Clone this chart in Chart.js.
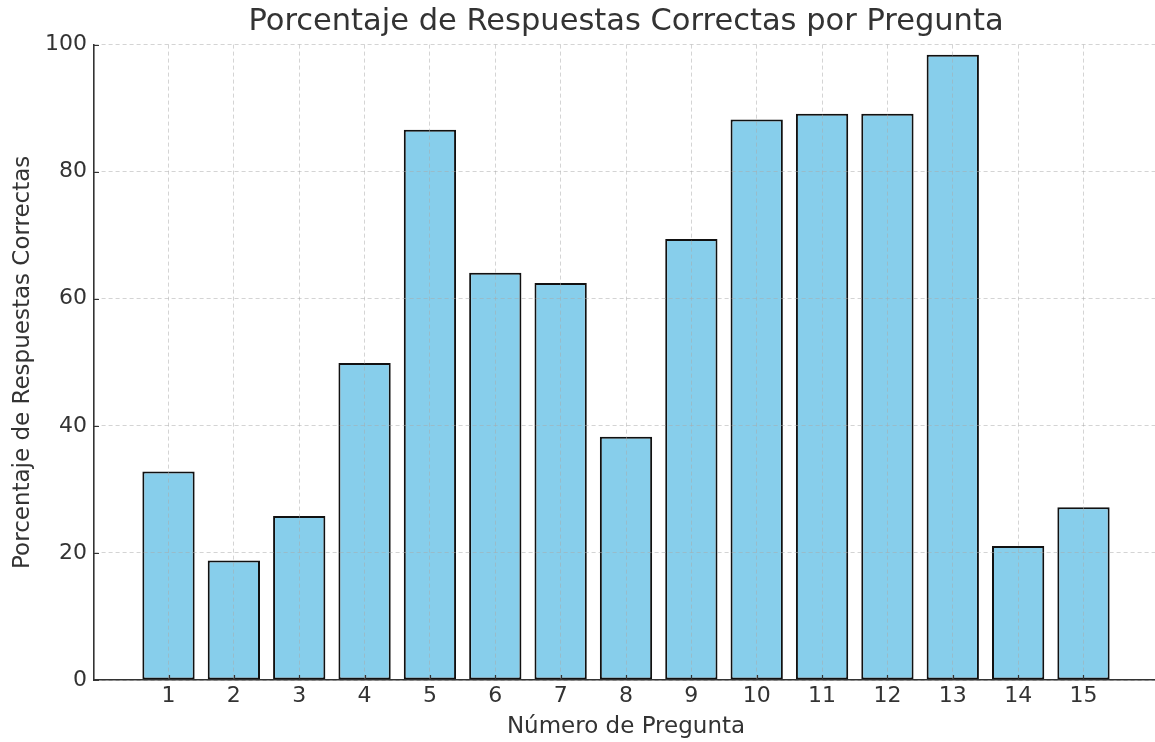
<!DOCTYPE html>
<html>
<head>
<meta charset="utf-8">
<script src="https://cdn.jsdelivr.net/npm/chart.js@4.4.0/dist/chart.umd.min.js"></script>
<style>
    html, body { margin: 0; padding: 0; background: #fff; overflow: hidden; }
    #wrap { width: 1160px; height: 742px; }
</style>
</head>
<body>
<div id="wrap"><canvas id="grafico"></canvas></div>
<script>
// datos
const preguntas = [1, 2, 3, 4, 5, 6, 7, 8, 9, 10, 11, 12, 13, 14, 15];
const porcentajes = [32.8, 18.8, 25.8, 49.9, 86.6, 64.1, 62.5, 38.3, 69.4, 88.2, 89.1, 89.1, 98.4, 21.1, 27.2];
const ticksY = [0, 20, 40, 60, 80, 100];

const fuente = "'DejaVu Sans', sans-serif";
const gris = '#333333';

// marcas de los ejes hacia dentro, como en el original
const marcasInternas = {
    id: 'marcasInternas',
    afterDraw(chart) {
        const ctx = chart.ctx;
        const x = chart.scales.x;
        const y = chart.scales.y;
        ctx.save();
        ctx.strokeStyle = gris;
        ctx.lineWidth = 1.2;
        ctx.beginPath();
        preguntas.forEach(p => {
            const px = Math.round(x.getPixelForValue(p)) + 0.5;
            ctx.moveTo(px, y.bottom);
            ctx.lineTo(px, y.bottom - 5);
        });
        ticksY.forEach(v => {
            const py = Math.round(y.getPixelForValue(v)) + 0.5;
            ctx.moveTo(x.left, py);
            ctx.lineTo(x.left + 5, py);
        });
        ctx.stroke();
        ctx.restore();
    }
};

const ctx = document.getElementById('grafico').getContext('2d');
new Chart(ctx, {
    type: 'bar',
    data: {
        datasets: [{
            data: preguntas.map((p, i) => ({ x: p, y: porcentajes[i] })),
            backgroundColor: '#87CEEB',
            borderColor: '#111111',
            borderWidth: 2,
            borderSkipped: false,
            barPercentage: 0.8,
            categoryPercentage: 1.0
        }]
    },
    options: {
        responsive: true,
        maintainAspectRatio: false,
        animation: false,
        layout: { padding: { top: 0, left: 0, right: 2, bottom: 0 } },
        plugins: {
            legend: { display: false },
            tooltip: { enabled: false },
            title: {
                display: true,
                fullSize: false,
                text: 'Porcentaje de Respuestas Correctas por Pregunta',
                color: gris,
                font: { family: fuente, size: 30.5, weight: 'normal' },
                padding: { top: 4, bottom: 4 }
            }
        },
        scales: {
            x: {
                type: 'linear',
                min: -0.14,
                max: 16.14,
                offset: false,
                afterBuildTicks: scale => {
                    scale.ticks = preguntas.map(p => ({ value: p }));
                },
                afterFit: scale => { scale.height = 62; },
                ticks: {
                    color: gris,
                    padding: 3,
                    maxRotation: 0,
                    font: { family: fuente, size: 22 },
                    callback: v => String(v)
                },
                grid: {
                    z: 1,
                    offset: false,
                    color: 'rgba(170,170,170,0.5)',
                    lineWidth: 1,
                    drawTicks: false
                },
                border: { display: true, z: 2, color: gris, width: 1.6, dash: [4, 3] },
                title: {
                    display: true,
                    text: 'Número de Pregunta',
                    color: gris,
                    font: { family: fuente, size: 23 },
                    padding: { top: 0, bottom: 1 }
                }
            },
            y: {
                min: 0,
                max: 100,
                afterBuildTicks: scale => {
                    scale.ticks = ticksY.map(v => ({ value: v }));
                },
                afterFit: scale => { scale.width = 94; },
                ticks: {
                    color: gris,
                    padding: 7,
                    font: { family: fuente, size: 22 }
                },
                grid: {
                    z: 1,
                    color: 'rgba(170,170,170,0.5)',
                    lineWidth: 1,
                    drawTicks: false
                },
                border: { display: true, z: 2, color: gris, width: 1.6, dash: [4, 3] },
                title: {
                    display: true,
                    text: 'Porcentaje de Respuestas Correctas',
                    color: gris,
                    font: { family: fuente, size: 23 },
                    padding: { top: 9, bottom: 0 }
                }
            }
        }
    },
    plugins: [marcasInternas]
});
</script>
</body>
</html>
